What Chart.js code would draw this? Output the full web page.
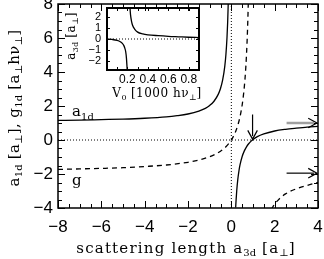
<!DOCTYPE html>
<html>
<head>
<meta charset="utf-8">
<script src="https://cdn.jsdelivr.net/npm/chart.js@4"></script>
<style>
html, body { margin: 0; padding: 0; background: #fff; }
#wrap { position: relative; width: 324px; height: 259px; }
#main { position: absolute; left: 0; top: 0; }
#inset { position: absolute; left: 60px; top: 0; }
</style>
</head>
<body>
<div id="wrap">
  <canvas id="main" width="324" height="259"></canvas>
  <canvas id="inset" width="145" height="102"></canvas>
</div>
<script>
// main panel: a1d (solid) and g1d (dashed) against a3d
const a1dLeftX  = [-8, -7, -6, -5, -4, -3, -2.5, -2, -1.5, -1.2, -1, -0.8, -0.6, -0.5, -0.4, -0.3, -0.25, -0.2, -0.17, -0.14];
const a1dLeftY  = [1.155, 1.17, 1.2, 1.23, 1.28, 1.36, 1.43, 1.53, 1.7, 1.86, 2.03, 2.28, 2.7, 3.03, 3.53, 4.36, 5.03, 6.03, 6.91, 8.17];
const a1dRightX = [0.2, 0.22, 0.25, 0.3, 0.35, 0.4, 0.5, 0.6, 0.7, 0.8, 0.9, 1.0, 1.2, 1.5, 2, 2.5, 3, 3.5, 4];
const a1dRightY = [-3.97, -3.52, -2.97, -2.3, -1.83, -1.47, -0.97, -0.64, -0.4, -0.22, -0.08, 0.03, 0.2, 0.36, 0.53, 0.63, 0.7, 0.76, 0.8];
const gLeftX  = [-8, -7, -6, -5, -4, -3, -2, -1.5, -1, -0.5, -0.25, 0, 0.2, 0.3, 0.4, 0.5, 0.55, 0.6, 0.65, 0.7, 0.75, 0.78, 0.8];
const gLeftY  = [-1.73, -1.7, -1.67, -1.63, -1.56, -1.47, -1.31, -1.18, -0.98, -0.66, -0.4, 0, 0.5, 0.87, 1.36, 2.06, 2.54, 3.14, 3.93, 5.02, 6.59, 7.93, 9.09];
const gRightX = [1.85, 1.9, 2, 2.2, 2.5, 3, 3.5, 4];
const gRightY = [-4.09, -3.97, -3.77, -3.48, -3.17, -2.87, -2.67, -2.5];
const xTicks = [-8, -6, -4, -2, 0, 2, 4];
const yTicks = [-4, -2, 0, 2, 4, 6, 8];

// arrows (data units)
const hArrowFrom = 2.55;
const hArrowLevels = [1.0, -1.95];
const vArrowX = 0.98;
const vArrowSpan = [1.5, 0.05];

// inset: a3d against V0
const insetLeftX  = [0, 0.05, 0.1, 0.13, 0.15, 0.165, 0.175, 0.183, 0.19, 0.195, 0.2];
const insetLeftY  = [0, -0.04, -0.13, -0.25, -0.4, -0.6, -0.85, -1.15, -1.7, -2.4, -3.2];
const insetRightX = [0.222, 0.23, 0.24, 0.25, 0.27, 0.3, 0.35, 0.4, 0.5, 0.6, 0.7, 0.8, 0.9];
const insetRightY = [3.2, 2.2, 1.6, 1.25, 0.9, 0.62, 0.46, 0.38, 0.3, 0.24, 0.2, 0.16, 0.13];
const insetXTicks = [0.2, 0.4, 0.6, 0.8];
const insetYTicks = [-2, -1, 0, 1, 2];

const pts = (xs, ys) => xs.map((x, i) => ({x: x, y: ys[i]}));
const fmt = v => String(v).replace('-', '\u2212');

const SERIF = '"DejaVu Serif", serif';
const SANS = '"Liberation Sans", Arial, sans-serif';

// text with subscripts: parts = [[text, isSub], ...], drawn glyph by glyph
// so the wide spacing of the original lettering can be copied
function partFont(ctx, size, sub) {
  ctx.font = (sub ? Math.round(size * 0.68) : size) + 'px ' + SERIF;
}
function richWidth(ctx, parts, size, spacing) {
  let w = 0;
  parts.forEach(p => {
    partFont(ctx, size, p[1]);
    for (const ch of p[0]) w += ctx.measureText(ch).width + (p[1] ? 0 : spacing);
  });
  return w;
}
function drawRich(ctx, parts, x, y, size, align, rot, spacing) {
  spacing = spacing || 0;
  ctx.save();
  ctx.translate(x, y);
  if (rot) ctx.rotate(rot);
  ctx.fillStyle = '#000';
  ctx.textBaseline = 'alphabetic';
  ctx.textAlign = 'left';
  let cx = align === 'center' ? -richWidth(ctx, parts, size, spacing) / 2 : 0;
  parts.forEach(p => {
    partFont(ctx, size, p[1]);
    for (const ch of p[0]) {
      ctx.fillText(ch, cx, p[1] ? size * 0.22 : 0);
      cx += ctx.measureText(ch).width + (p[1] ? 0 : spacing);
    }
  });
  ctx.restore();
}

function seg(ctx, x1, y1, x2, y2) {
  ctx.beginPath(); ctx.moveTo(x1, y1); ctx.lineTo(x2, y2); ctx.stroke();
}
function arrow(ctx, x1, y1, x2, y2, shaft, shaftW) {
  ctx.strokeStyle = shaft; ctx.lineWidth = shaftW;
  const ang = Math.atan2(y2 - y1, x2 - x1);
  seg(ctx, x1, y1, x2 - 3 * Math.cos(ang), y2 - 3 * Math.sin(ang));
  ctx.strokeStyle = '#000'; ctx.lineWidth = 1.2;
  ctx.beginPath();
  ctx.moveTo(x2 - 10 * Math.cos(ang - 0.5), y2 - 10 * Math.sin(ang - 0.5));
  ctx.lineTo(x2, y2);
  ctx.lineTo(x2 - 10 * Math.cos(ang + 0.5), y2 - 10 * Math.sin(ang + 0.5));
  ctx.stroke();
}

function isMajor(v, step) { return Math.abs(v / step - Math.round(v / step)) < 1e-6; }

function frameAndTicks(chart, o) {
  const ctx = chart.ctx, a = chart.chartArea, x = chart.scales.x, y = chart.scales.y;
  ctx.save();
  ctx.strokeStyle = '#000'; ctx.lineWidth = 1;
  for (let v = x.min; v <= x.max + 1e-9; v += o.xMinor) {
    const px = Math.round(x.getPixelForValue(v)) + 0.5;
    const len = isMajor(v, o.xMajor) ? o.major : o.minor;
    seg(ctx, px, a.bottom, px, a.bottom - len);
    seg(ctx, px, a.top, px, a.top + len);
  }
  const y0 = Math.ceil(y.min / o.yMinor) * o.yMinor;
  for (let v = y0; v <= y.max + 1e-9; v += o.yMinor) {
    const py = Math.round(y.getPixelForValue(v)) + 0.5;
    const len = isMajor(v, o.yMajor) ? o.major : o.minor;
    seg(ctx, a.left, py, a.left + len, py);
    seg(ctx, a.right, py, a.right - len, py);
  }
  ctx.lineWidth = o.frame;
  ctx.strokeRect(a.left, a.top, a.right - a.left, a.bottom - a.top);
  ctx.restore();
}

const mainDecor = {
  id: 'mainDecor',
  afterDatasetsDraw(chart) {
    const ctx = chart.ctx, a = chart.chartArea, x = chart.scales.x, y = chart.scales.y;
    frameAndTicks(chart, {xMinor: 0.5, xMajor: 2, yMinor: 0.5, yMajor: 2, major: 7, minor: 4, frame: 1.5});
    ctx.save();
    // arrows
    const xe = x.getPixelForValue(x.max) - 1;
    hArrowLevels.forEach((lv, i) => {
      const py = y.getPixelForValue(lv);
      arrow(ctx, x.getPixelForValue(hArrowFrom), py, xe, py, i === 0 ? '#a0a0a0' : '#000', i === 0 ? 2.5 : 1.2);
    });
    const vx = x.getPixelForValue(vArrowX);
    arrow(ctx, vx, y.getPixelForValue(vArrowSpan[0]), vx, y.getPixelForValue(vArrowSpan[1]), '#000', 1.2);
    // curve labels
    drawRich(ctx, [['a', 0], ['1d', 1]], x.getPixelForValue(-7.35), y.getPixelForValue(1.4), 15, 'left');
    drawRich(ctx, [['g', 0]], x.getPixelForValue(-7.35), y.getPixelForValue(-2.65), 15, 'left');
    // axis titles
    drawRich(ctx, [['scattering length a', 0], ['3d', 1], [' [a', 0], ['\u22a5', 1], [']', 0]],
      (a.left + a.right) / 2 - 2, 253, 15, 'center', 0, 1.2);
    drawRich(ctx, [['a', 0], ['1d', 1], [' [a', 0], ['\u22a5', 1], ['], g', 0], ['1d', 1],
      [' [a', 0], ['\u22a5', 1], ['h\u03bd', 0], ['\u22a5', 1], [']', 0]],
      19, (a.top + a.bottom) / 2 + 2, 15, 'center', -Math.PI / 2, 0.4);
    ctx.restore();
  }
};

const insetDecor = {
  id: 'insetDecor',
  afterDatasetsDraw(chart) {
    const ctx = chart.ctx, a = chart.chartArea;
    frameAndTicks(chart, {xMinor: 0.1, xMajor: 0.2, yMinor: 1, yMajor: 1, major: 3, minor: 3, frame: 2});
    drawRich(ctx, [['V', 0], ['0', 1], [' [1000 h\u03bd', 0], ['\u22a5', 1], [']', 0]],
      (a.left + a.right) / 2 + 4, 97, 12, 'center', 0, 0.5);
    drawRich(ctx, [['a', 0], ['3d', 1], [' [a', 0], ['\u22a5', 1], [']', 0]],
      15, (a.top + a.bottom) / 2 - 3, 12, 'center', -Math.PI / 2, 0.5);
  }
};

const lineDs = (data, dash, width) => ({
  data: data, borderColor: '#000', borderWidth: width || 1.3, borderDash: dash || [],
  pointRadius: 0, fill: false, cubicInterpolationMode: 'monotone'
});
const guideDs = data => ({
  data: data, borderColor: '#000', borderWidth: 1, borderDash: [1, 2],
  pointRadius: 0, fill: false, tension: 0
});
// keep the plot box where the reference has it
const noPad = s => { s.paddingTop = 0; s.paddingBottom = 0; s.paddingLeft = 0; s.paddingRight = 0; };

new Chart(document.getElementById('main'), {
  type: 'line',
  data: {
    datasets: [
      guideDs([{x: -8, y: 0}, {x: 4, y: 0}]),
      guideDs([{x: 0, y: -4}, {x: 0, y: 8}]),
      lineDs(pts(a1dLeftX, a1dLeftY)),
      lineDs(pts(a1dRightX, a1dRightY)),
      lineDs(pts(gLeftX, gLeftY), [5, 4]),
      lineDs(pts(gRightX, gRightY), [5, 4])
    ]
  },
  options: {
    responsive: false,
    animation: false,
    layout: {padding: {top: 4, right: 6, left: 0, bottom: 0}},
    plugins: {legend: {display: false}, tooltip: {enabled: false}},
    scales: {
      x: {
        type: 'linear', min: -8, max: 4,
        afterBuildTicks: s => { s.ticks = xTicks.map(v => ({value: v})); },
        afterFit: s => { s.height = 51; noPad(s); },
        grid: {display: false, drawTicks: false},
        border: {display: false},
        ticks: {padding: 9, color: '#000', maxRotation: 0, autoSkip: false,
          font: {family: SANS, size: 17}, callback: v => fmt(v)}
      },
      y: {
        type: 'linear', min: -4, max: 8,
        afterBuildTicks: s => { s.ticks = yTicks.map(v => ({value: v})); },
        afterFit: s => { s.width = 58; noPad(s); },
        grid: {display: false, drawTicks: false},
        border: {display: false},
        ticks: {padding: 5, color: '#000', autoSkip: false,
          font: {family: SANS, size: 17}, callback: v => fmt(v)}
      }
    }
  },
  plugins: [mainDecor]
});

new Chart(document.getElementById('inset'), {
  type: 'line',
  data: {
    datasets: [
      guideDs([{x: 0, y: 0}, {x: 0.9, y: 0}]),
      lineDs(pts(insetLeftX, insetLeftY), [], 1.3),
      lineDs(pts(insetRightX, insetRightY), [], 1.3)
    ]
  },
  options: {
    responsive: false,
    animation: false,
    layout: {padding: {top: 8, right: 6, left: 0, bottom: 0}},
    plugins: {legend: {display: false}, tooltip: {enabled: false}},
    scales: {
      x: {
        type: 'linear', min: 0, max: 0.9,
        afterBuildTicks: s => { s.ticks = insetXTicks.map(v => ({value: v})); },
        afterFit: s => { s.height = 32; noPad(s); },
        grid: {display: false, drawTicks: false},
        border: {display: false},
        ticks: {padding: 2, color: '#000', maxRotation: 0, autoSkip: false,
          font: {family: SANS, size: 12}, callback: v => fmt(v)}
      },
      y: {
        type: 'linear', min: -2.8, max: 2.8,
        afterBuildTicks: s => { s.ticks = insetYTicks.map(v => ({value: v})); },
        afterFit: s => { s.width = 47; noPad(s); },
        grid: {display: false, drawTicks: false},
        border: {display: false},
        ticks: {padding: 6, color: '#000', autoSkip: false,
          font: {family: SANS, size: 11}, callback: v => fmt(v)}
      }
    }
  },
  plugins: [insetDecor]
});
</script>
</body>
</html>
